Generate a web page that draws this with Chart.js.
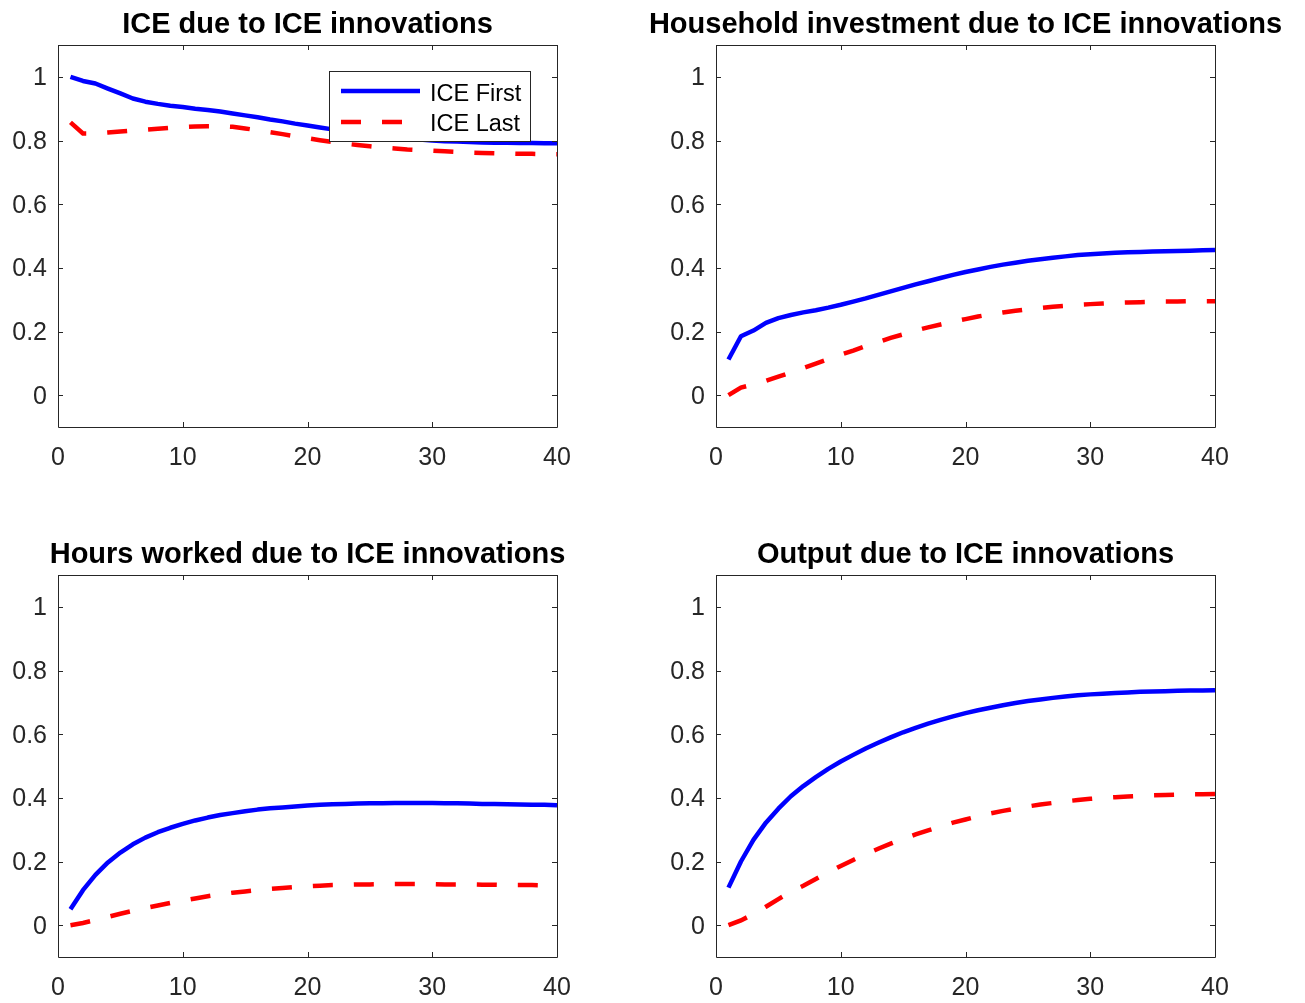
<!DOCTYPE html>
<html>
<head>
<meta charset="utf-8">
<script src="https://cdn.jsdelivr.net/npm/chart.js@4.4.1/dist/chart.umd.min.js"></script>
<style>
  body { margin: 0; background: #fff; }
  canvas { position: absolute; }
</style>
</head>
<body>
<canvas id="c1" width="647" height="473" style="left:0px;top:0px"></canvas>
<canvas id="c2" width="685" height="473" style="left:620px;top:0px"></canvas>
<canvas id="c3" width="647" height="473" style="left:0px;top:530px"></canvas>
<canvas id="c4" width="685" height="473" style="left:620px;top:530px"></canvas>
<script>
const periods = [1, 2, 3, 4, 5, 6, 7, 8, 9, 10, 11, 12, 13, 14, 15, 16, 17, 18, 19, 20,
  21, 22, 23, 24, 25, 26, 27, 28, 29, 30, 31, 32, 33, 34, 35, 36, 37, 38, 39, 40];
const xTicks = [0, 10, 20, 30, 40];
const yTicks = [0, 0.2, 0.4, 0.6, 0.8, 1];
const seriesNames = ["ICE First", "ICE Last"];
const titles = [
  "ICE due to ICE innovations",
  "Household investment due to ICE innovations",
  "Hours worked due to ICE innovations",
  "Output due to ICE innovations"
];

// ICE response
const iceFirst = [1.000, 0.987, 0.979, 0.963, 0.948, 0.932, 0.922, 0.915, 0.909, 0.905,
  0.900, 0.896, 0.891, 0.885, 0.879, 0.873, 0.866, 0.860, 0.853, 0.847,
  0.841, 0.835, 0.829, 0.824, 0.819, 0.814, 0.810, 0.806, 0.803, 0.800,
  0.798, 0.797, 0.795, 0.794, 0.793, 0.793, 0.792, 0.792, 0.791, 0.791];
const iceLast = [0.857, 0.822, 0.822, 0.825, 0.828, 0.831, 0.834, 0.837, 0.840, 0.842,
  0.844, 0.845, 0.845, 0.843, 0.838, 0.832, 0.826, 0.820, 0.813, 0.807,
  0.801, 0.795, 0.790, 0.786, 0.782, 0.778, 0.775, 0.772, 0.770, 0.768,
  0.766, 0.764, 0.762, 0.761, 0.760, 0.759, 0.758, 0.758, 0.757, 0.757];

// household investment
const invFirst = [0.112, 0.185, 0.203, 0.227, 0.242, 0.252, 0.260, 0.267, 0.275, 0.284,
  0.294, 0.304, 0.315, 0.326, 0.337, 0.348, 0.358, 0.368, 0.378, 0.387,
  0.395, 0.403, 0.410, 0.416, 0.422, 0.427, 0.432, 0.436, 0.440, 0.443,
  0.445, 0.447, 0.449, 0.450, 0.451, 0.452, 0.453, 0.454, 0.455, 0.456];
const invLast = [0.000, 0.024, 0.034, 0.045, 0.058, 0.071, 0.085, 0.099, 0.113, 0.127,
  0.140, 0.154, 0.167, 0.180, 0.191, 0.203, 0.213, 0.222, 0.231, 0.239,
  0.247, 0.254, 0.260, 0.265, 0.270, 0.274, 0.278, 0.281, 0.284, 0.286,
  0.288, 0.290, 0.291, 0.292, 0.293, 0.294, 0.294, 0.295, 0.295, 0.295];

// hours worked
const hoursFirst = [0.050, 0.110, 0.158, 0.197, 0.228, 0.254, 0.275, 0.292, 0.306, 0.318,
  0.329, 0.338, 0.346, 0.352, 0.358, 0.363, 0.367, 0.370, 0.373, 0.376,
  0.378, 0.380, 0.381, 0.382, 0.383, 0.383, 0.384, 0.384, 0.384, 0.384,
  0.383, 0.383, 0.382, 0.381, 0.381, 0.380, 0.379, 0.378, 0.378, 0.377];
const hoursLast = [0.000, 0.007, 0.016, 0.026, 0.036, 0.045, 0.054, 0.062, 0.070, 0.077,
  0.084, 0.091, 0.097, 0.102, 0.106, 0.110, 0.114, 0.117, 0.120, 0.122,
  0.124, 0.126, 0.127, 0.128, 0.128, 0.129, 0.129, 0.129, 0.129, 0.129,
  0.128, 0.128, 0.128, 0.127, 0.127, 0.126, 0.126, 0.126, 0.125, 0.125];

// output
const outFirst = [0.118, 0.200, 0.268, 0.322, 0.366, 0.405, 0.437, 0.465, 0.491, 0.514,
  0.535, 0.555, 0.573, 0.590, 0.606, 0.620, 0.633, 0.645, 0.656, 0.666,
  0.675, 0.683, 0.691, 0.698, 0.704, 0.709, 0.714, 0.718, 0.722, 0.725,
  0.727, 0.729, 0.731, 0.733, 0.734, 0.735, 0.736, 0.737, 0.737, 0.738];
const outLast = [0.000, 0.015, 0.035, 0.058, 0.082, 0.105, 0.124, 0.145, 0.166, 0.186,
  0.205, 0.223, 0.240, 0.256, 0.271, 0.285, 0.298, 0.310, 0.322, 0.332,
  0.342, 0.351, 0.359, 0.366, 0.373, 0.379, 0.384, 0.389, 0.393, 0.397,
  0.400, 0.402, 0.404, 0.406, 0.408, 0.409, 0.410, 0.411, 0.411, 0.412];

// padLeft: canvases on the right start further left so long titles fit
const panels = [
  { id: "c1", first: iceFirst, last: iceLast, padLeft: 0, legend: true },
  { id: "c2", first: invFirst, last: invLast, padLeft: 38 },
  { id: "c3", first: hoursFirst, last: hoursLast, padLeft: 0 },
  { id: "c4", first: outFirst, last: outLast, padLeft: 38 }
];

const AXIS = "#262626";
const FONT = "'Liberation Sans', Arial, Helvetica, sans-serif";
const BLUE = "#0000ff";
const RED = "#ff0000";
const DASH = [20, 21];
const LW = 4.5;

// box around the axes with inward ticks on all four sides, plus title
const boxPlugin = {
  id: "box",
  afterDatasetsDraw(chart, args, opts) {
    const ctx = chart.ctx;
    const a = chart.chartArea;
    const xs = chart.scales.x, ys = chart.scales.y;
    ctx.save();
    ctx.strokeStyle = AXIS;
    ctx.lineWidth = 1;
    ctx.beginPath();
    ctx.rect(Math.round(a.left) + 0.5, Math.round(a.top) + 0.5,
      Math.round(a.right - a.left), Math.round(a.bottom - a.top));
    xTicks.forEach(v => {
      const px = Math.round(xs.getPixelForValue(v)) + 0.5;
      ctx.moveTo(px, a.bottom); ctx.lineTo(px, a.bottom - 5);
      ctx.moveTo(px, a.top); ctx.lineTo(px, a.top + 5);
    });
    yTicks.forEach(v => {
      const py = Math.round(ys.getPixelForValue(v)) + 0.5;
      ctx.moveTo(a.left, py); ctx.lineTo(a.left + 5, py);
      ctx.moveTo(a.right, py); ctx.lineTo(a.right - 5, py);
    });
    ctx.stroke();

    ctx.fillStyle = "#000";
    ctx.font = "bold 29px " + FONT;
    ctx.textAlign = "center";
    ctx.textBaseline = "alphabetic";
    ctx.fillText(opts.text, (a.left + a.right) / 2, 33);

    if (opts.legend) {
      const lx = a.left + 271.5, ly = 71.5, lw = 201, lh = 70;
      ctx.fillStyle = "#fff";
      ctx.fillRect(lx, ly, lw, lh);
      ctx.strokeStyle = AXIS;
      ctx.strokeRect(lx, ly, lw, lh);
      ctx.lineWidth = LW;
      ctx.lineCap = "butt";
      ctx.strokeStyle = BLUE;
      ctx.beginPath(); ctx.moveTo(lx + 11.5, 91); ctx.lineTo(lx + 90.5, 91); ctx.stroke();
      ctx.strokeStyle = RED;
      ctx.setLineDash(DASH);
      ctx.beginPath(); ctx.moveTo(lx + 11.5, 122); ctx.lineTo(lx + 90.5, 122); ctx.stroke();
      ctx.setLineDash([]);
      ctx.fillStyle = "#000";
      ctx.font = "23.5px " + FONT;
      ctx.textAlign = "left";
      ctx.fillText(seriesNames[0], lx + 100.5, 101);
      ctx.fillText(seriesNames[1], lx + 100.5, 131);
    }
    ctx.restore();
  }
};

panels.forEach((p, i) => {
  const ctx = document.getElementById(p.id).getContext("2d");
  new Chart(ctx, {
    type: "line",
    data: {
      labels: periods,
      datasets: [
        {
          label: seriesNames[0],
          data: periods.map((t, k) => ({ x: t, y: p.first[k] })),
          borderColor: BLUE,
          borderWidth: LW,
          pointRadius: 0,
          tension: 0,
          borderJoinStyle: "round",
          fill: false
        },
        {
          label: seriesNames[1],
          data: periods.map((t, k) => ({ x: t, y: p.last[k] })),
          borderColor: RED,
          borderWidth: LW,
          borderDash: DASH,
          pointRadius: 0,
          tension: 0,
          fill: false
        }
      ]
    },
    options: {
      responsive: false,
      animation: false,
      devicePixelRatio: 1,
      layout: { padding: { top: 45, right: 90, left: p.padLeft, bottom: 0 } },
      scales: {
        x: {
          type: "linear",
          min: 0,
          max: 40,
          afterBuildTicks: s => { s.ticks = xTicks.map(v => ({ value: v })); },
          afterFit: s => { s.height = 46; },
          grid: { display: false, drawTicks: false },
          border: { display: false },
          ticks: {
            padding: 16,
            color: AXIS,
            font: { family: FONT, size: 25 },
            maxRotation: 0,
            callback: v => String(v)
          }
        },
        y: {
          min: -0.1,
          max: 1.1,
          afterBuildTicks: s => { s.ticks = yTicks.map(v => ({ value: v })); },
          afterFit: s => { s.width = 58; },
          grid: { display: false, drawTicks: false },
          border: { display: false },
          ticks: {
            padding: 11,
            labelOffset: 1.5,
            color: AXIS,
            font: { family: FONT, size: 25 },
            callback: v => String(v)
          }
        }
      },
      plugins: {
        legend: { display: false },
        tooltip: { enabled: false },
        title: { display: false },
        box: { text: titles[i], legend: !!p.legend }
      }
    },
    plugins: [boxPlugin]
  });
});
</script>
</body>
</html>
